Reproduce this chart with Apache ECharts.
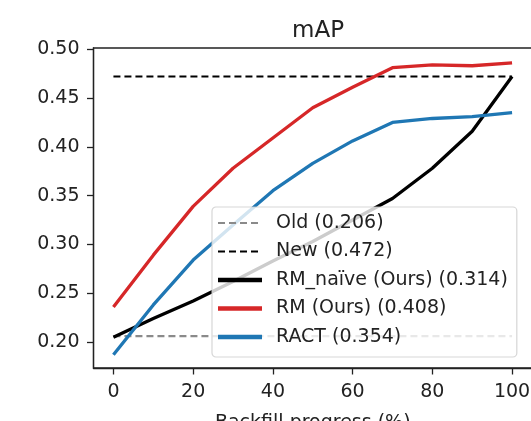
<!DOCTYPE html>
<html>
<head>
<meta charset="utf-8">
<script src="https://cdn.jsdelivr.net/npm/echarts@6/dist/echarts.min.js"></script>
<style>html,body{margin:0;padding:0;background:#fff}#c{width:531px;height:421px}</style>
</head>
<body>
<div id="c"></div>
<script>
const progress = [0, 10, 20, 30, 40, 50, 60, 70, 80, 90, 100];
const oldValue = 0.206;
const newValue = 0.472;
const rmNaive = [0.205, 0.224, 0.242, 0.262, 0.283, 0.303, 0.325, 0.347, 0.378, 0.416, 0.472];
const rm = [0.236, 0.289, 0.339, 0.378, 0.409, 0.440, 0.461, 0.481, 0.484, 0.483, 0.486];
const ract = [0.187, 0.238, 0.284, 0.320, 0.355, 0.383, 0.406, 0.425, 0.429, 0.431, 0.435];
const xTicks = [0, 20, 40, 60, 80, 100];
const yTicks = [0.20, 0.25, 0.30, 0.35, 0.40, 0.45, 0.50];
const names = ['Old (0.206)', 'New (0.472)', 'RM_naïve (Ours) (0.314)', 'RM (Ours) (0.408)', 'RACT (0.354)'];

const FONT = 'DejaVu Sans';
const pair = arr => progress.map((x, i) => [x, arr[i]]);
const flat = v => progress.map(x => [x, v]);
// thin bar legend icon inside a 44x20 box (tiny corner specks fix the bounding box)
const barIcon = 'path://M0,0L0.01,0L0.01,0.01Z M0,7.7H44V12.3H0Z M43.99,20L44,20L44,19.99Z';

const chart = echarts.init(document.getElementById('c'), null, {renderer: 'canvas'});
chart.setOption({
  animation: false,
  backgroundColor: '#fff',
  title: {
    text: 'mAP', left: 313, top: 15, textAlign: 'center',
    textStyle: {fontFamily: FONT, fontSize: 23, fontWeight: 'normal', color: '#222'}
  },
  grid: {left: 93.5, top: 48, right: -1, bottom: 53, show: true, borderColor: '#222', borderWidth: 1.3,
    containLabel: false, outerBoundsMode: 'none'},
  xAxis: {
    type: 'value', min: -5, max: 105,
    name: 'Backfill progress (%)', nameLocation: 'middle', nameGap: 46,
    nameTextStyle: {fontFamily: FONT, fontSize: 19, color: '#222'},
    axisLine: {show: true, onZero: false, lineStyle: {color: '#222', width: 1.3}},
    axisTick: {show: true, length: 6.5, customValues: xTicks, lineStyle: {color: '#222', width: 1.3}},
    axisLabel: {customValues: xTicks, margin: 15, fontFamily: FONT, fontSize: 19, color: '#222'},
    splitLine: {show: false}
  },
  yAxis: {
    type: 'value', min: 0.1734, max: 0.5012,
    axisLine: {show: true, onZero: false, lineStyle: {color: '#222', width: 1.3}},
    axisTick: {show: true, length: 6.5, customValues: yTicks, lineStyle: {color: '#222', width: 1.3}},
    axisLabel: {customValues: yTicks, margin: 14, fontFamily: FONT, fontSize: 19, color: '#222',
      formatter: v => v.toFixed(2)},
    splitLine: {show: false}
  },
  legend: {
    orient: 'vertical', left: 212, top: 207,
    padding: [6, 9, 10, 5],
    itemWidth: 44, itemHeight: 20, itemGap: 8.5,
    backgroundColor: 'rgba(255,255,255,0.8)', borderColor: 'rgba(204,204,204,0.8)', borderWidth: 1.2, borderRadius: 4,
    textStyle: {fontFamily: FONT, fontSize: 19, color: '#222', lineHeight: 20, padding: [0, 0, 0, 9]},
    data: [
      {name: names[0], itemStyle: {opacity: 0, borderWidth: 0}},
      {name: names[1], itemStyle: {opacity: 0, borderWidth: 0}},
      {name: names[2], icon: barIcon, itemStyle: {borderWidth: 0}},
      {name: names[3], icon: barIcon, itemStyle: {borderWidth: 0}},
      {name: names[4], icon: barIcon, itemStyle: {borderWidth: 0}}
    ]
  },
  series: [
    {name: names[0], type: 'line', data: flat(oldValue), symbol: 'none', color: '#8a8a8a',
      lineStyle: {color: '#8a8a8a', width: 2.2, type: [7, 4]}},
    {name: names[1], type: 'line', data: flat(newValue), symbol: 'none', color: '#000',
      lineStyle: {color: '#000', width: 2.2, type: [7, 4]}},
    {name: names[2], type: 'line', data: pair(rmNaive), symbol: 'none', color: '#000',
      lineStyle: {color: '#000', width: 3.3}},
    {name: names[3], type: 'line', data: pair(rm), symbol: 'none', color: '#d62728',
      lineStyle: {color: '#d62728', width: 3.3}},
    {name: names[4], type: 'line', data: pair(ract), symbol: 'none', color: '#1f77b4',
      lineStyle: {color: '#1f77b4', width: 3.3}}
  ]
});
</script>
</body>
</html>
